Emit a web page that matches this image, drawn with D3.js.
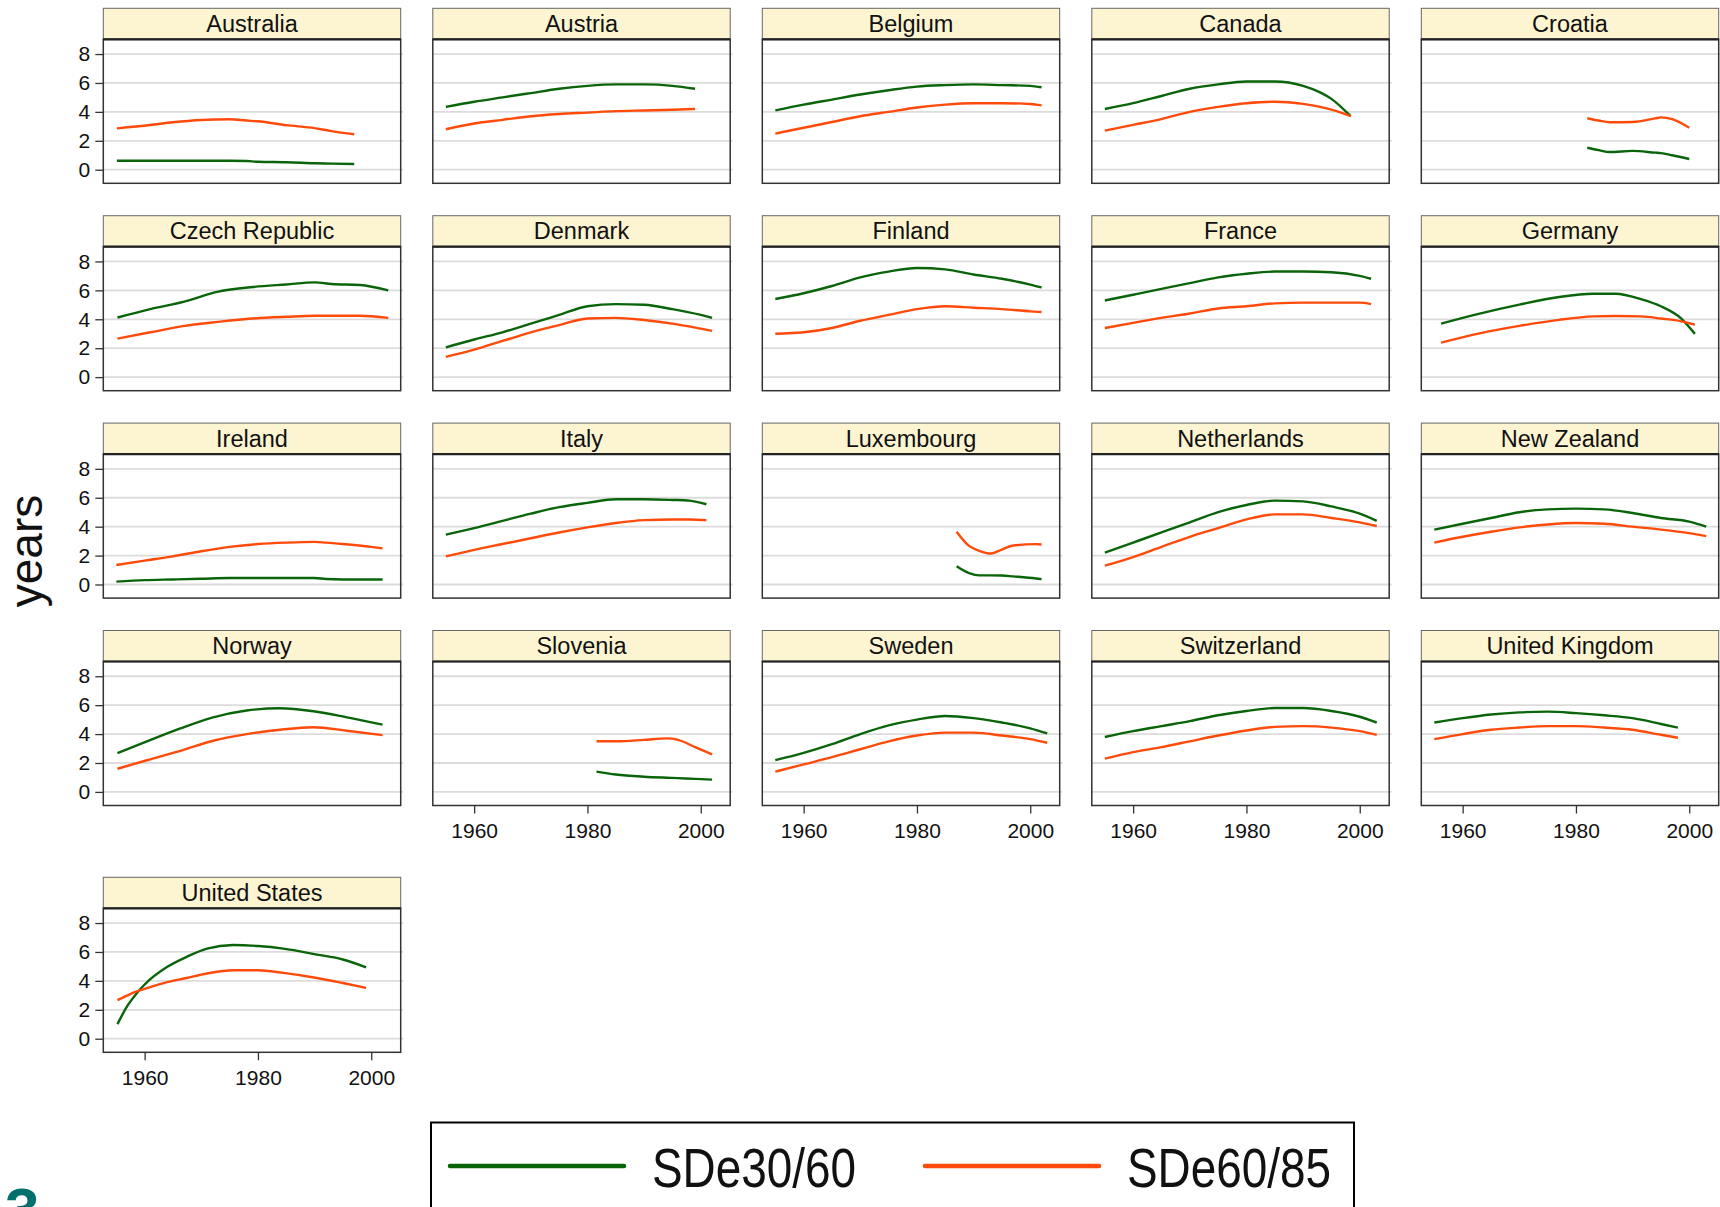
<!DOCTYPE html>
<html>
<head>
<meta charset="utf-8">
<script src="https://cdn.jsdelivr.net/npm/d3@7"></script>
<style>
  body { margin: 0; background: #fff; }
  svg text { font-family: "Liberation Sans", Arial, sans-serif; fill: #111; }
</style>
</head>
<body>
<svg id="chart" width="1720" height="1207"></svg>
<script>
// [year, SDe30/60, SDe60/85]
const australia = [[1955.1,0.62,2.86],[1961,0.62,3.09],[1965,0.62,3.28],[1970,0.62,3.44],[1975,0.62,3.49],[1978,0.6,3.4],[1980,0.55,3.35],[1985,0.52,3.08],[1990,0.45,2.88],[1993,0.42,2.67],[1997,0.39,2.45]];
const austria = [[1955,4.35,2.8],[1960,4.7,3.2],[1965,5.0,3.45],[1970,5.3,3.7],[1975,5.6,3.85],[1980,5.8,3.95],[1985,5.9,4.05],[1990,5.9,4.1],[1995,5.8,4.15],[1999,5.6,4.2]];
const belgium = [[1955,4.1,2.5],[1960,4.5,2.9],[1965,4.85,3.3],[1970,5.2,3.7],[1975,5.5,4.0],[1980,5.75,4.3],[1985,5.85,4.5],[1990,5.9,4.6],[1995,5.85,4.6],[2000,5.8,4.55],[2002,5.7,4.45]];
const canada = [[1955,4.2,2.7],[1960,4.6,3.1],[1965,5.1,3.5],[1970,5.6,4.0],[1975,5.9,4.35],[1980,6.1,4.6],[1985,6.1,4.7],[1990,5.8,4.55],[1993,5.35,4.35],[1995,4.9,4.15],[1998.4,3.7,3.7]];
const croatia = [[1982,1.52,3.56],[1984,1.35,3.4],[1986,1.22,3.28],[1990,1.3,3.3],[1994,1.18,3.55],[1995,1.15,3.62],[1997,1.0,3.5],[2000,0.74,2.9]];
const czech = [[1955.2,4.12,2.66],[1961,4.7,3.1],[1967,5.22,3.54],[1973,5.91,3.82],[1979,6.23,4.05],[1985,6.41,4.17],[1990,6.55,4.24],[1993,6.44,4.24],[1998,6.37,4.24],[2003,6.0,4.1]];
const denmark = [[1955,2.06,1.4],[1960,2.6,1.9],[1965,3.1,2.5],[1970,3.7,3.1],[1975,4.3,3.6],[1980,4.9,4.05],[1985,5.05,4.1],[1990,5.0,3.95],[1995,4.7,3.7],[2000,4.3,3.35],[2002,4.1,3.2]];
const finland = [[1955,5.4,3.0],[1960,5.8,3.1],[1965,6.3,3.4],[1970,6.9,3.9],[1975,7.3,4.3],[1980,7.55,4.7],[1985,7.45,4.9],[1990,7.1,4.8],[1995,6.8,4.7],[2000,6.4,4.55],[2002,6.2,4.5]];
const france = [[1955,5.3,3.4],[1960,5.7,3.75],[1965,6.1,4.1],[1970,6.5,4.4],[1975,6.9,4.75],[1980,7.15,4.9],[1985,7.3,5.1],[1990,7.3,5.15],[1995,7.25,5.15],[2000,7.0,5.15],[2002,6.8,5.05]];
const germany = [[1956.2,3.7,2.39],[1963,4.39,3.03],[1970,5.01,3.54],[1977,5.54,3.96],[1983,5.77,4.2],[1987,5.77,4.23],[1991.6,5.38,4.2],[1995,4.9,4.05],[1998.6,4.05,3.86],[2001,2.99,3.63]];
const ireland = [[1955,0.2,1.35],[1960,0.3,1.65],[1965,0.35,1.95],[1970,0.4,2.3],[1975,0.45,2.6],[1980,0.45,2.8],[1985,0.45,2.9],[1990,0.45,2.95],[1992,0.38,2.9],[1995,0.35,2.8],[2000,0.35,2.6],[2002,0.35,2.5]];
const italy = [[1955,3.45,1.95],[1960,3.9,2.4],[1965,4.4,2.8],[1970,4.9,3.2],[1975,5.35,3.6],[1980,5.65,3.95],[1985,5.9,4.25],[1990,5.9,4.45],[1995,5.85,4.5],[1998,5.8,4.5],[2001,5.55,4.45]];
const luxembourg = [[1987,1.26,3.65],[1989.2,0.79,2.67],[1991,0.63,2.33],[1993,0.63,2.14],[1995,0.62,2.42],[1997,0.56,2.7],[2001,0.42,2.79],[2002,0.37,2.77]];
const netherlands = [[1955,2.2,1.3],[1960,2.9,1.9],[1965,3.6,2.6],[1970,4.3,3.3],[1975,5.0,3.9],[1980,5.5,4.5],[1985,5.8,4.85],[1990,5.75,4.85],[1995,5.4,4.6],[2000,4.9,4.3],[2003,4.4,4.05]];
const newZealand = [[1955,3.8,2.9],[1960,4.2,3.3],[1965,4.6,3.65],[1970,5.0,3.95],[1975,5.2,4.15],[1980,5.25,4.25],[1985,5.2,4.2],[1990,4.95,4.0],[1995,4.6,3.8],[2000,4.35,3.55],[2003,4.0,3.35]];
const norway = [[1955.2,2.68,1.6],[1960.4,3.49,2.19],[1966.3,4.39,2.84],[1972.1,5.16,3.54],[1978,5.63,4.0],[1983.9,5.79,4.3],[1989.8,5.58,4.47],[1995.7,5.16,4.23],[2002,4.65,3.93]];
const slovenia = [[1981.6,1.4,3.5],[1985,1.2,3.5],[1990,1.05,3.6],[1994,0.98,3.7],[1996,0.95,3.6],[1999,0.9,3.1],[2002,0.85,2.6]];
const sweden = [[1955,2.2,1.4],[1960,2.7,1.9],[1965,3.3,2.4],[1970,4.0,2.95],[1975,4.6,3.5],[1980,5.0,3.9],[1985,5.25,4.1],[1990,5.1,4.1],[1995,4.8,3.9],[2000,4.4,3.65],[2003,4.05,3.4]];
const switzerland = [[1955,3.8,2.3],[1960,4.2,2.75],[1965,4.55,3.1],[1970,4.9,3.5],[1975,5.3,3.9],[1980,5.6,4.25],[1985,5.8,4.5],[1990,5.8,4.55],[1995,5.6,4.45],[2000,5.2,4.2],[2003,4.8,3.95]];
const unitedKingdom = [[1955,4.8,3.65],[1960,5.1,4.0],[1965,5.35,4.3],[1970,5.5,4.45],[1975,5.55,4.55],[1980,5.45,4.55],[1985,5.3,4.45],[1990,5.1,4.3],[1995,4.7,3.95],[1998,4.45,3.75]];
const unitedStates = [[1955.2,1.01,2.67],[1957,2.3,3.0],[1958.5,3.1,3.25],[1960,3.75,3.45],[1964,4.97,3.91],[1967.4,5.66,4.2],[1971,6.23,4.51],[1975.6,6.48,4.74],[1980,6.41,4.74],[1984.5,6.23,4.55],[1990.4,5.82,4.2],[1995,5.48,3.85],[1999.1,4.94,3.52]];

const countryNames = ["Australia","Austria","Belgium","Canada","Croatia",
  "Czech Republic","Denmark","Finland","France","Germany",
  "Ireland","Italy","Luxembourg","Netherlands","New Zealand",
  "Norway","Slovenia","Sweden","Switzerland","United Kingdom",
  "United States"];
const countryRows = [australia, austria, belgium, canada, croatia,
  czech, denmark, finland, france, germany,
  ireland, italy, luxembourg, netherlands, newZealand,
  norway, slovenia, sweden, switzerland, unitedKingdom,
  unitedStates];

const seriesNames = ["SDe30/60", "SDe60/85"];
const seriesColors = ["#0a640a", "#ff4a0a"];
const yTicks = [0, 2, 4, 6, 8];
const xTicks = [1960, 1980, 2000];

// layout
const left0 = 103.3, colStep = 329.5, panelW = 297.4;
const rowTops = [8.3, 215.7, 423.1, 630.5, 877.3];
const stripH = 31, plotH = 144;
const xDomain = [1952.7, 2005.2];
const yDomain = [-0.94, 9.02];

const svg = d3.select("#chart");

countryNames.forEach((name, i) => {
    const col = i % 5, row = Math.floor(i / 5);
    const x0 = left0 + col * colStep;
    const top = rowTops[row];
    const plotTop = top + stripH;
    const plotBottom = plotTop + plotH;

    const xScale = d3.scaleLinear().domain(xDomain).range([x0, x0 + panelW]);
    const yScale = d3.scaleLinear().domain(yDomain).range([plotBottom, plotTop]);

    const g = svg.append("g");

    // strip
    g.append("rect")
        .attr("x", x0).attr("y", top)
        .attr("width", panelW).attr("height", stripH)
        .attr("fill", "#fdf5d2")
        .attr("stroke", "#666").attr("stroke-width", 1);
    g.append("text")
        .attr("x", x0 + panelW / 2).attr("y", top + 23.5)
        .attr("text-anchor", "middle")
        .style("font-size", "23.5px")
        .text(name);

    // gridlines
    g.selectAll(".grid").data(yTicks).join("line")
        .attr("x1", x0).attr("x2", x0 + panelW + 2.5)
        .attr("y1", d => yScale(d)).attr("y2", d => yScale(d))
        .attr("stroke", "#dcdcdc").attr("stroke-width", 1.8);

    // frame
    g.append("rect")
        .attr("x", x0).attr("y", plotTop)
        .attr("width", panelW).attr("height", plotH)
        .attr("fill", "none")
        .attr("stroke", "#333").attr("stroke-width", 1.5);
    g.append("line")
        .attr("x1", x0).attr("x2", x0 + panelW)
        .attr("y1", plotTop).attr("y2", plotTop)
        .attr("stroke", "#222").attr("stroke-width", 2.2);

    // lines
    const rows = countryRows[i];
    [1, 2].forEach(k => {
        const line = d3.line()
            .x(d => xScale(d[0]))
            .y(d => yScale(d[k]))
            .curve(d3.curveMonotoneX);
        g.append("path")
            .datum(rows)
            .attr("d", line)
            .attr("fill", "none")
            .attr("stroke", seriesColors[k - 1])
            .attr("stroke-width", 2.4)
            .attr("stroke-linejoin", "round");
    });

    // y axis on first column
    if (col === 0) {
        const yAxis = g.append("g")
            .attr("transform", `translate(${x0}, 0)`)
            .call(d3.axisLeft(yScale).tickValues(yTicks).tickSize(8).tickPadding(5));
        yAxis.select(".domain").remove();
        yAxis.selectAll(".tick line").attr("stroke", "#333").attr("stroke-width", 1.3);
        yAxis.selectAll(".tick text")
            .style("font-size", "21px")
            .style("font-family", '"Liberation Sans", Arial, sans-serif')
            .attr("fill", "#111");
    }

    // x axis on the bottom panels
    const showX = (row === 3 && col > 0) || row === 4;
    if (showX) {
        const xAxis = g.append("g")
            .attr("transform", `translate(0, ${plotBottom})`)
            .call(d3.axisBottom(xScale).tickValues(xTicks).tickFormat(d3.format("d")).tickSize(8).tickPadding(10));
        xAxis.select(".domain").remove();
        xAxis.selectAll(".tick line").attr("stroke", "#333").attr("stroke-width", 1.3);
        xAxis.selectAll(".tick text")
            .style("font-size", "21px")
            .style("font-family", '"Liberation Sans", Arial, sans-serif')
            .attr("fill", "#111");
    }
});

// y title
svg.append("text")
    .attr("transform", "translate(41.5, 551) rotate(-90)")
    .attr("text-anchor", "middle")
    .style("font-size", "46px")
    .text("years");

// legend
svg.append("rect")
    .attr("x", 431).attr("y", 1122.5)
    .attr("width", 923).attr("height", 120)
    .attr("fill", "none")
    .attr("stroke", "#000").attr("stroke-width", 2);

const legendX = [450, 925];
seriesNames.forEach((s, k) => {
    svg.append("line")
        .attr("x1", legendX[k]).attr("x2", legendX[k] + 174)
        .attr("y1", 1166).attr("y2", 1166)
        .attr("stroke", seriesColors[k]).attr("stroke-width", 4.5)
        .attr("stroke-linecap", "round");
    svg.append("text")
        .attr("x", legendX[k] + 202).attr("y", 1187)
        .attr("textLength", 204)
        .attr("lengthAdjust", "spacingAndGlyphs")
        .style("font-size", "56px")
        .text(s);
});

// cut-off page number at bottom left
svg.append("text")
    .attr("x", 5).attr("y", 1231)
    .style("font-size", "62px")
    .style("font-weight", "bold")
    .style("fill", "#00706c")
    .text("3");
</script>
</body>
</html>
